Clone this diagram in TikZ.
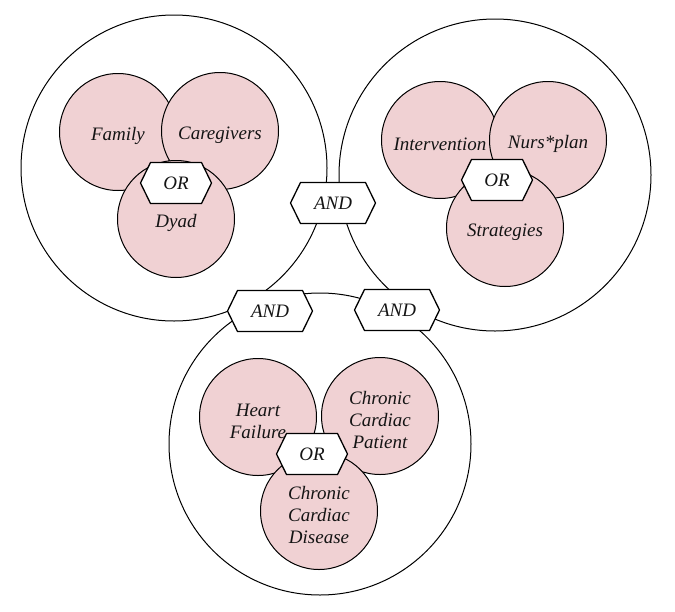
\documentclass[tikz,border=0pt]{standalone}
\usepackage{fontspec}
\setmainfont{Liberation Serif}
\usetikzlibrary{shapes.symbols}
\definecolor{pinkfill}{RGB}{240,209,211}
\definecolor{inktext}{RGB}{20,20,20}
\tikzset{
  bigc/.style={circle, draw, line width=1pt, inner sep=0pt},
  vtext/.style={font=\fontsize{19}{22}\selectfont\itshape, align=center,
    text=inktext, yshift=-4pt, inner sep=0pt},
  venn/.style={circle, draw, line width=1pt, fill=pinkfill, inner sep=0pt,
    minimum size=117pt, label={[vtext]center:#1}},
  hex/.style={signal, signal to=east and west, signal pointer angle=128,
    draw, line width=1.3pt, fill=white, inner sep=0pt,
    minimum height=41pt, minimum width=85pt,
    font=\fontsize{19}{22}\selectfont\itshape, text=inktext},
  orhex/.style={hex, minimum width=71pt}
}
\begin{document}
\begin{tikzpicture}[x=1pt,y=-1pt]
\useasboundingbox (0,0) rectangle (675,611);
% outer groups
\node[bigc, minimum size=306pt] (g1) at (174,168) {};
\node[bigc, minimum size=312pt] (g2) at (495,175) {};
\node[bigc, minimum size=302pt] (g3) at (320,444) {};
% group 1
\node[venn={Family}] (fam) at (118,132) {};
\node[venn={Caregivers}] (care) at (220,131) {};
\node[venn={Dyad}] (dyad) at (176,219) {};
% group 2
\node[venn={Intervention}] (int) at (440,140) {};
\node[venn={Nurs*plan}] (nurs) at (548,140) {};
\node[venn={Strategies}] (strat) at (505,228) {};
% group 3
\node[venn={Heart\\Failure}] (hf) at (258,417) {};
\node[venn={Chronic\\Cardiac\\Patient}] (ccp) at (380,416) {};
\node[venn={Chronic\\Cardiac\\Disease}] (ccd) at (319,511) {};
% operators
\node[orhex] (or1) at (176,183) {OR};
\node[orhex] (or2) at (497,180) {OR};
\node[orhex] (or3) at (312,454) {OR};
\node[hex] (and1) at (333,203) {AND};
\node[hex] (and2) at (270,311) {AND};
\node[hex] (and3) at (397,310) {AND};
\end{tikzpicture}
\end{document}
